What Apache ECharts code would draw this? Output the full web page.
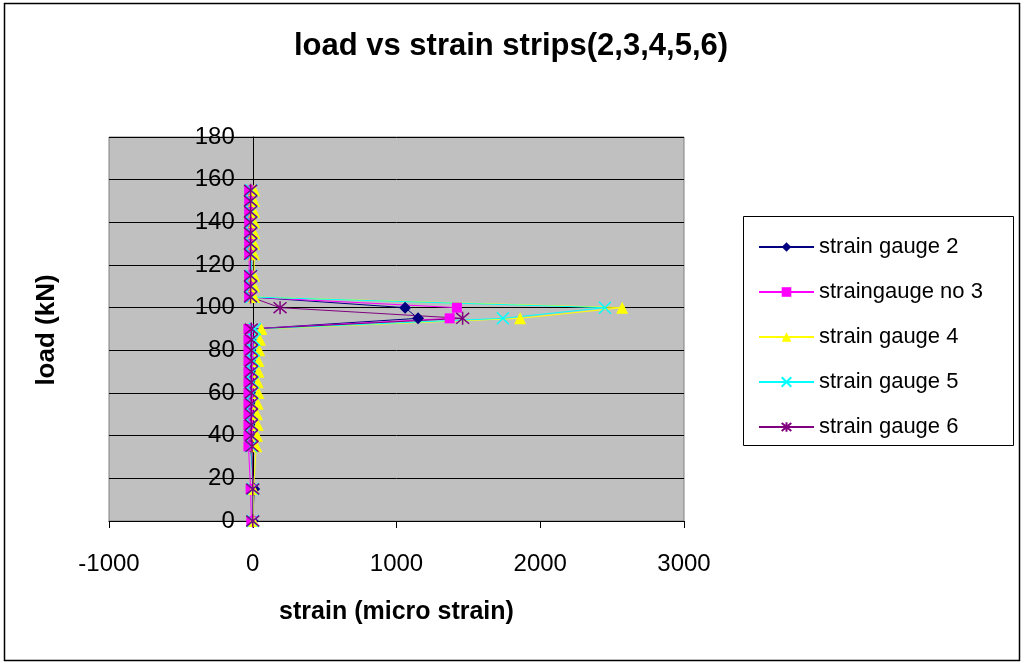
<!DOCTYPE html>
<html>
<head>
<meta charset="utf-8">
<title>load vs strain strips(2,3,4,5,6)</title>
<script src="https://cdn.jsdelivr.net/npm/echarts@6/dist/echarts.min.js"></script>
<style>
  html, body { margin: 0; padding: 0; background: #ffffff; }
  #chart { width: 1022px; height: 663px; }
</style>
</head>
<body>
<div id="chart"></div>
<script>
// Applied load at each reading (kN)
const loads = [0, 15, 35, 40, 45, 50, 55, 60, 65, 70, 75, 80, 85, 90, 95, 100, 105, 110, 115, 125, 130, 135, 140, 145, 150, 155];

// Strain readings per gauge (micro strain), one per load step
const gauge2 = [0, 10, -15, -15, -15, -15, -15, -15, -15, -15, -15, -15, -15, -15, 1150, 1060, -15, -15, -15, -15, -15, -15, -15, -15, -15, -15];
const gauge3 = [-10, -15, -30, -30, -30, -30, -30, -30, -30, -30, -30, -30, -30, -30, 1370, 1420, -25, -25, -25, -25, -25, -25, -25, -25, -25, -25];
const gauge4 = [5, 5, 25, 30, 35, 30, 35, 40, 35, 40, 40, 45, 50, 60, 1860, 2570, 10, 10, 10, 10, 10, 10, 10, 10, 10, 10];
const gauge5 = [0, 0, -10, -10, -5, -5, -5, 0, 0, 0, 5, 5, 10, 15, 1740, 2450, -10, -10, -10, -10, -10, -10, -10, -10, -10, -10];
const gauge6 = [0, 0, -5, -10, -10, -10, -10, -10, -10, -10, -10, -10, -10, -10, 1460, 190, -15, -15, -15, -15, -15, -15, -15, -15, -15, -15];

const seriesNames = ['strain gauge 2', 'straingauge no 3', 'strain gauge 4', 'strain gauge 5', 'strain gauge 6'];

// Axis ticks
const strainTicks = [-1000, 0, 1000, 2000, 3000];
const loadTicks = [0, 20, 40, 60, 80, 100, 120, 140, 160, 180];

const FONT = 'Arial, "Liberation Sans", sans-serif';

// Plot area placement
const GRID = { left: 109, right: 338, top: 137, bottom: 142 };
const CHART_W = 1022;

function pairs(strains) {
  return strains.map((s, i) => [s, loads[i]]);
}

// The load axis sits on zero strain: shift it in from the plot's left edge
const xMin = strainTicks[0];
const xMax = strainTicks[strainTicks.length - 1];
const plotWidth = CHART_W - GRID.left - GRID.right;
const zeroShift = plotWidth * (0 - xMin) / (xMax - xMin);

const crossPath = 'path://M0,0L10,10M10,0L0,10';
const starPath = 'path://M0,0L10,10M10,0L0,10M5,-1L5,11';

const styles = [
  { color: '#000080', symbol: 'diamond', size: 12, border: 0 },
  { color: '#FF00FF', symbol: 'rect', size: 10, border: 0 },
  { color: '#FFFF00', symbol: 'triangle', size: 12, border: 0 },
  { color: '#00FFFF', symbol: crossPath, size: 12, border: 1.5 },
  { color: '#800080', symbol: starPath, size: 13, border: 1.5 }
];

const gaugeData = [gauge2, gauge3, gauge4, gauge5, gauge6];

const series = gaugeData.map((g, i) => ({
  name: seriesNames[i],
  type: 'line',
  data: pairs(g),
  symbol: styles[i].symbol,
  symbolSize: styles[i].size,
  showAllSymbol: true,
  lineStyle: { color: styles[i].color, width: 1 },
  itemStyle: {
    color: styles[i].color,
    borderColor: styles[i].color,
    borderWidth: styles[i].border
  },
  emphasis: { disabled: true }
}));

const chart = echarts.init(document.getElementById('chart'), null, { renderer: 'canvas' });

chart.setOption({
  animation: false,
  backgroundColor: '#ffffff',
  title: {
    text: 'load vs strain strips(2,3,4,5,6)',
    left: 'center',
    top: 31,
    padding: [0, 0, 0, 8],
    textStyle: { fontFamily: FONT, fontWeight: 'bold', fontSize: 31, color: '#000' }
  },
  grid: Object.assign({
    show: true,
    backgroundColor: '#C0C0C0',
    borderColor: '#808080',
    borderWidth: 1
  }, GRID),
  legend: {
    orient: 'vertical',
    left: 753,
    top: 230,
    itemWidth: 55,
    itemHeight: 12,
    itemGap: 21,
    data: seriesNames,
    textStyle: { fontFamily: FONT, fontSize: 22, color: '#000', lineHeight: 24 }
  },
  xAxis: {
    type: 'value',
    min: xMin,
    max: xMax,
    interval: 1000,
    name: 'strain (micro strain)',
    nameLocation: 'middle',
    nameGap: 79,
    nameTextStyle: { fontFamily: FONT, fontWeight: 'bold', fontSize: 25, color: '#000' },
    axisLine: { show: true, onZero: false, lineStyle: { color: '#000', width: 1 } },
    axisTick: { show: true, inside: false, length: 7, lineStyle: { color: '#000' } },
    axisLabel: { fontFamily: FONT, fontSize: 24, color: '#000', margin: 31, formatter: v => String(v) },
    splitLine: { show: false }
  },
  yAxis: {
    type: 'value',
    position: 'left',
    offset: -zeroShift,
    min: loadTicks[0],
    max: loadTicks[loadTicks.length - 1],
    interval: 20,
    axisLine: { show: true, onZero: false, lineStyle: { color: '#000', width: 1 } },
    axisTick: { show: true, inside: false, length: 9, lineStyle: { color: '#000' } },
    axisLabel: { fontFamily: FONT, fontSize: 24, color: '#000', margin: 18, formatter: v => String(v) },
    splitLine: { show: true, lineStyle: { color: '#000', width: 1 } }
  },
  graphic: [
    {
      type: 'rect',
      shape: { x: 4.5, y: 3.5, width: 1015, height: 657 },
      style: { fill: 'none', stroke: '#000', lineWidth: 1.5 },
      silent: true
    },
    {
      type: 'rect',
      shape: { x: 743.5, y: 216.5, width: 270, height: 229 },
      style: { fill: '#ffffff', stroke: '#000', lineWidth: 1 },
      z: -1,
      silent: true
    },
    {
      type: 'text',
      x: 47,
      y: 330,
      rotation: Math.PI / 2,
      style: {
        text: 'load (kN)',
        fontFamily: FONT,
        fontWeight: 'bold',
        fontSize: 26,
        fill: '#000',
        align: 'center',
        verticalAlign: 'middle'
      },
      silent: true
    }
  ],
  series: series
});
</script>
</body>
</html>
